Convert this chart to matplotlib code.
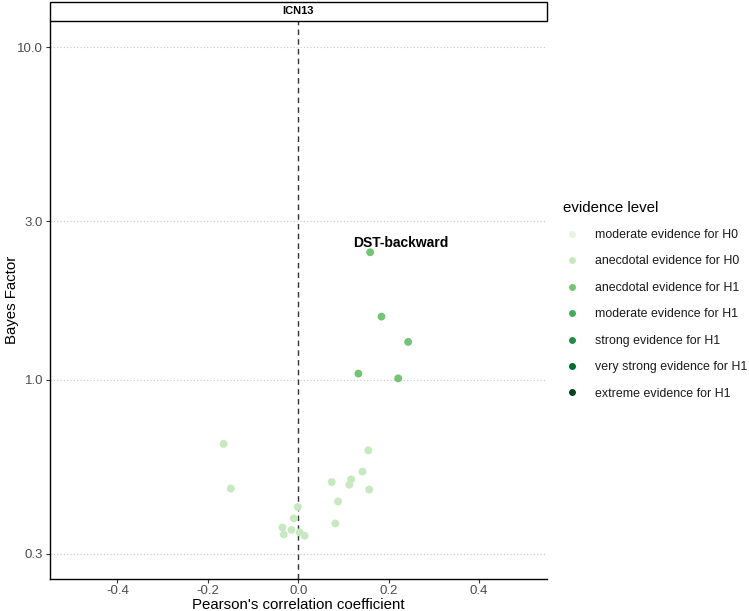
import numpy as np
import matplotlib.pyplot as plt
from matplotlib.lines import Line2D
from matplotlib.patches import Rectangle

plt.rcParams['font.family'] = ['Liberation Sans', 'DejaVu Sans']

# evidence levels and their colours (Greens)
LEVELS = ['moderate evidence for H0', 'anecdotal evidence for H0',
          'anecdotal evidence for H1', 'moderate evidence for H1',
          'strong evidence for H1', 'very strong evidence for H1',
          'extreme evidence for H1']
LEVEL_COLORS = ['#e5f5e0', '#c7e9c0', '#74c476', '#41ab5d',
                '#238b45', '#006d2c', '#00441b']

# correlations with ICN13
corr = [-0.165, -0.149, 0.155, 0.142, 0.074, 0.117, 0.113, 0.157, 0.088,
        -0.001, -0.010, 0.082, -0.035, -0.015, -0.032, 0.003, 0.014,
        0.159, 0.184, 0.243, 0.133, 0.221]
bf = [0.642, 0.471, 0.614, 0.530, 0.493, 0.502, 0.484, 0.468, 0.431,
      0.415, 0.383, 0.370, 0.360, 0.354, 0.343, 0.348, 0.340,
      2.418, 1.549, 1.300, 1.044, 1.010]
level = [1] * 17 + [2] * 5
labels = {17: 'DST-backward'}

fig = plt.figure(figsize=(7.49, 6.11), dpi=100)
ax = fig.add_axes([0.0661, 0.0524, 0.6642, 0.9136])

# points
cols = [LEVEL_COLORS[l] for l in level]
ax.scatter(corr, bf, s=32, c=cols, edgecolors='none', zorder=3)

for i, txt in labels.items():
    ax.annotate(txt, (corr[i], bf[i]), xytext=(22, 6.5), textcoords='offset points',
                ha='center', va='center', fontsize=10, fontweight='bold', zorder=4)

ax.axvline(0, color='#333333', linestyle=(0, (4, 3)), linewidth=1.0, zorder=2)

ax.set_yscale('log')
ax.set_ylim(0.252, 12.0)
ax.set_xlim(-0.55, 0.55)
ax.set_yticks([0.3, 1.0, 3.0, 10.0])
ax.set_yticklabels(['0.3', '1.0', '3.0', '10.0'])
ax.yaxis.set_minor_locator(plt.NullLocator())
ax.set_xticks([-0.4, -0.2, 0.0, 0.2, 0.4])
ax.set_xticklabels(['-0.4', '-0.2', '0.0', '0.2', '0.4'])
ax.grid(axis='y', color='#c8c8c8', linestyle=(0, (1, 2)), linewidth=0.8)
ax.set_axisbelow(True)

for s in ['top', 'right']:
    ax.spines[s].set_visible(False)
for s in ['left', 'bottom']:
    ax.spines[s].set_color('black')
    ax.spines[s].set_linewidth(1.0)
ax.tick_params(axis='both', length=3, width=0.8, color='#333333',
               labelsize=9.5, labelcolor='#4d4d4d', pad=1.5)

ax.set_xlabel("Pearson's correlation coefficient", fontsize=10.8, labelpad=0.5)
ax.set_ylabel('Bayes Factor', fontsize=10.8)
ax.yaxis.set_label_coords(-0.061, 0.5)

# facet strip
strip = Rectangle((0.0661, 0.9661), 0.6642, 0.0306, transform=fig.transFigure,
                  facecolor='white', edgecolor='black', linewidth=1.0)
fig.patches.append(strip)
fig.text(0.0661 + 0.6642 / 2, 0.9661 + 0.0153, 'ICN13', ha='center', va='center',
         fontsize=8, fontweight='bold')

# legend
handles = [Line2D([], [], marker='o', linestyle='none', markersize=5,
                  markerfacecolor=c, markeredgecolor='none') for c in LEVEL_COLORS]
leg = fig.legend(handles, LEVELS, loc='upper left', bbox_to_anchor=(0.737, 0.690),
                 frameon=False, title='evidence level', title_fontsize=10.8,
                 fontsize=8.9, labelspacing=1.17, handletextpad=1.1,
                 handlelength=1.5)
leg._legend_box.align = 'left'
for t in leg.get_texts():
    t.set_color('#1a1a1a')

fig.savefig('out.png', dpi=100)
